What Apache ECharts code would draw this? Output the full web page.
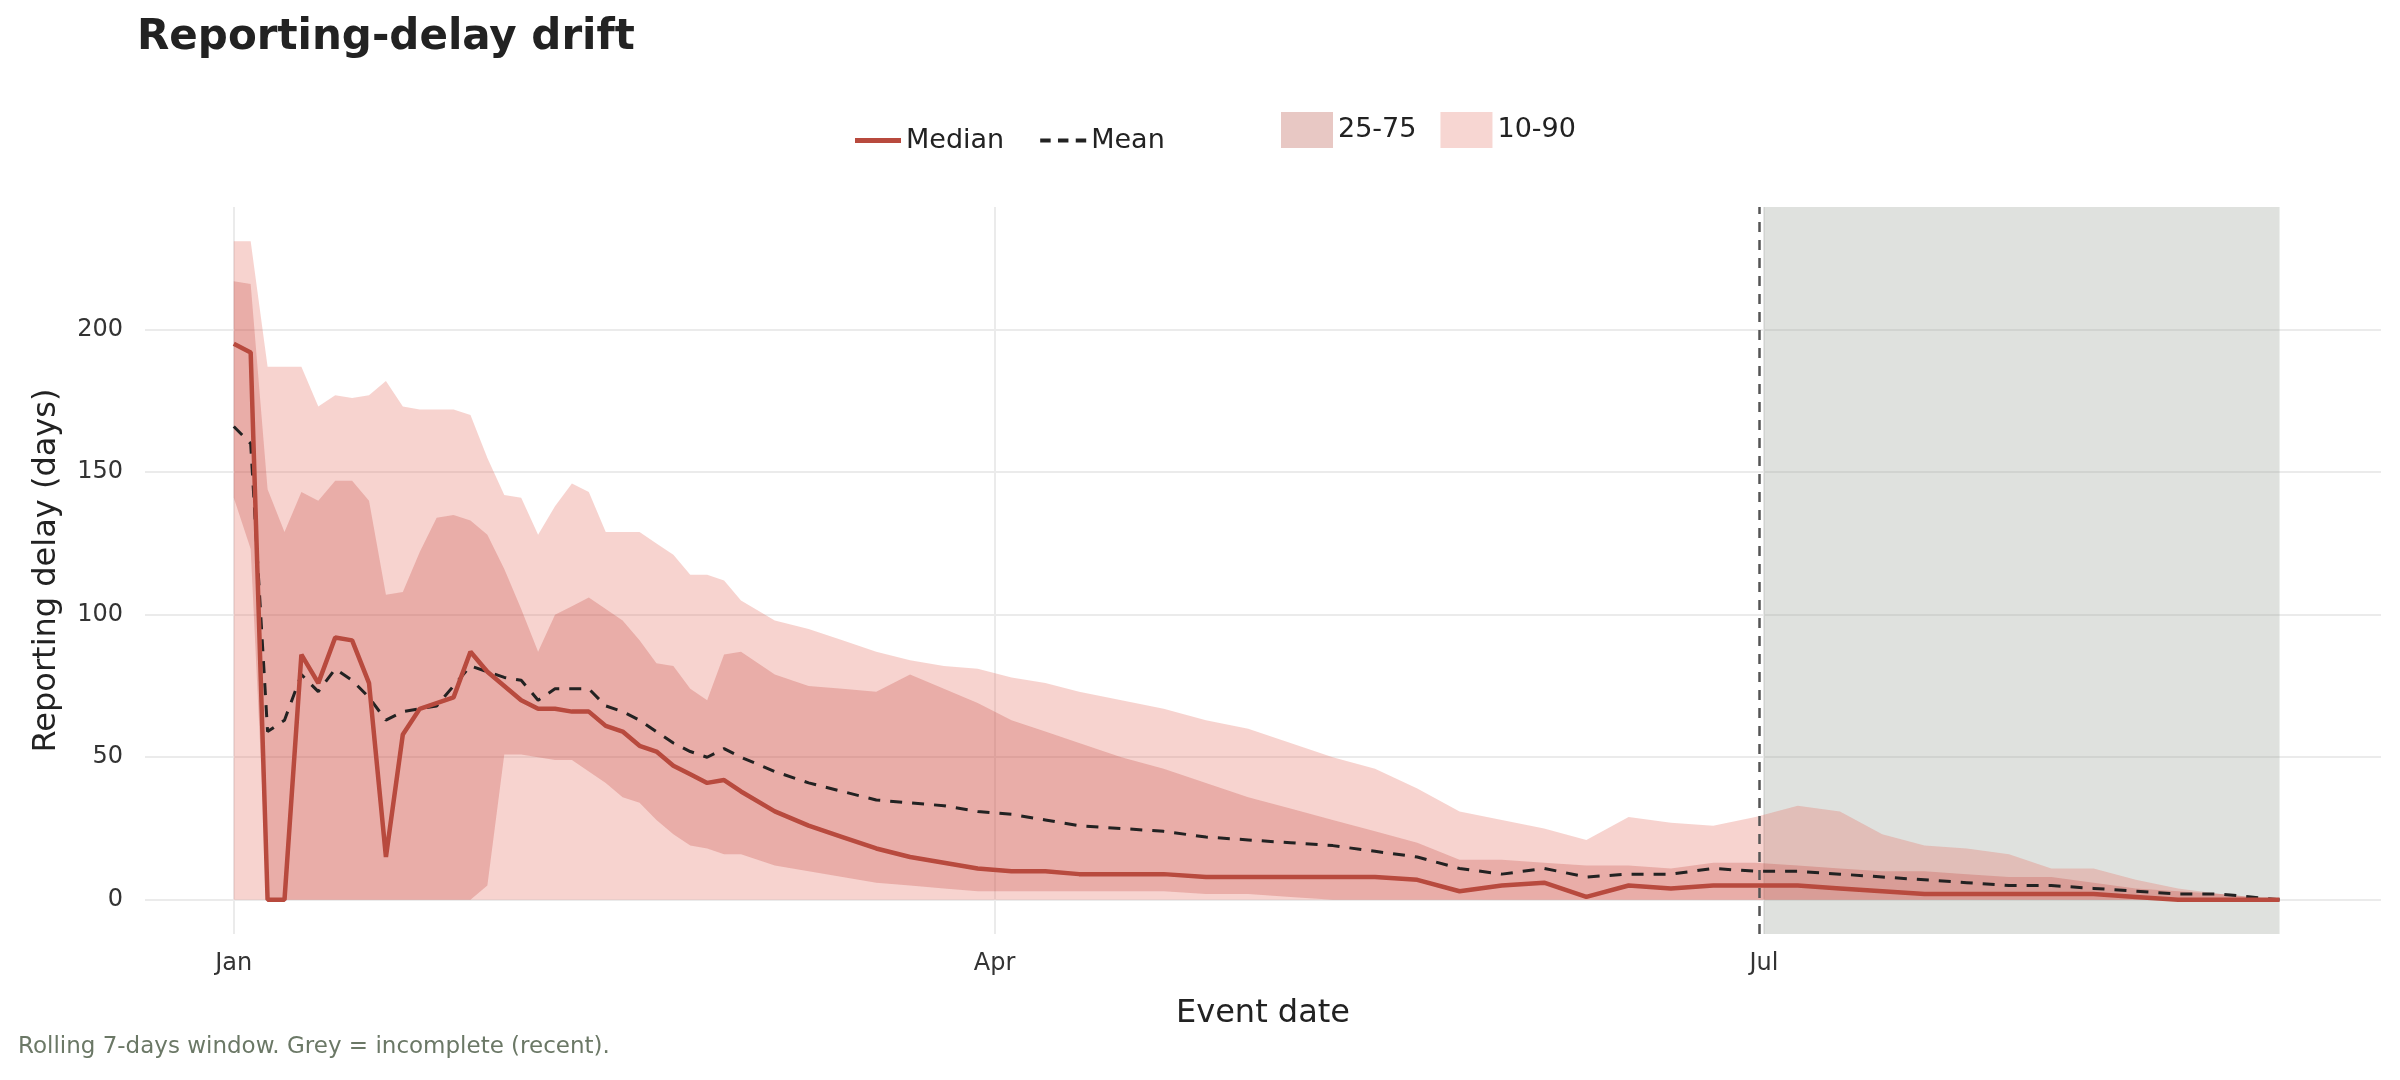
<!DOCTYPE html>
<html lang="en">
  <head>
    <meta charset="UTF-8" />
    <title>Reporting-delay drift</title>
    <script src="https://cdn.jsdelivr.net/npm/echarts@6.0.0/dist/echarts.min.js"></script>
  </head>
  <body style="margin: 0">
    <div id="main" style="width: 2400px; height: 1080px"></div>
    <script type="text/javascript">
      // Days since Jan 1 (event date)
      const days = [0, 2, 4, 6, 8, 10, 12, 14, 16, 18, 20, 22, 24, 26, 28, 30, 32, 34, 36, 38, 40, 42, 44, 46, 48, 50, 52, 54, 56, 58, 60, 64, 68, 72, 76, 80, 84, 88, 92, 96, 100, 105, 110, 115, 120, 125, 130, 135, 140, 145, 150, 155, 160, 165, 170, 175, 180, 185, 190, 195, 200, 205, 210, 215, 220, 225, 230, 235, 242];
      const median = [195, 192, 0, 0, 86, 76, 92, 91, 76, 15, 58, 67, 69, 71, 87, 80, 75, 70, 67, 67, 66, 66, 61, 59, 54, 52, 47, 44, 41, 42, 38, 31, 26, 22, 18, 15, 13, 11, 10, 10, 9, 9, 9, 8, 8, 8, 8, 8, 7, 3, 5, 6, 1, 5, 4, 5, 5, 5, 4, 3, 2, 2, 2, 2, 2, 1, 0, 0, 0];
      const mean = [166, 160, 59, 63, 79, 73, 81, 77, 71, 63, 66, 67, 68, 75, 82, 80, 78, 77, 70, 74, 74, 74, 68, 66, 63, 59, 55, 52, 50, 53, 50, 45, 41, 38, 35, 34, 33, 31, 30, 28, 26, 25, 24, 22, 21, 20, 19, 17, 15, 11, 9, 11, 8, 9, 9, 11, 10, 10, 9, 8, 7, 6, 5, 5, 4, 3, 2, 2, 0];
      const p25 = [141, 123, 0, 0, 0, 0, 0, 0, 0, 0, 0, 0, 0, 0, 0, 5, 51, 51, 50, 49, 49, 45, 41, 36, 34, 28, 23, 19, 18, 16, 16, 12, 10, 8, 6, 5, 4, 3, 3, 3, 3, 3, 3, 2, 2, 1, 0, 0, 0, 0, 0, 0, 0, 0, 0, 0, 0, 0, 0, 0, 0, 0, 0, 0, 0, 0, 0, 0, 0];
      const p75 = [217, 216, 144, 129, 143, 140, 147, 147, 140, 107, 108, 122, 134, 135, 133, 128, 116, 102, 87, 100, 103, 106, 102, 98, 91, 83, 82, 74, 70, 86, 87, 79, 75, 74, 73, 79, 74, 69, 63, 59, 55, 50, 46, 41, 36, 32, 28, 24, 20, 14, 14, 13, 12, 12, 11, 13, 13, 12, 11, 10, 10, 9, 8, 8, 6, 4, 3, 2, 0];
      const p10 = [0, 0, 0, 0, 0, 0, 0, 0, 0, 0, 0, 0, 0, 0, 0, 0, 0, 0, 0, 0, 0, 0, 0, 0, 0, 0, 0, 0, 0, 0, 0, 0, 0, 0, 0, 0, 0, 0, 0, 0, 0, 0, 0, 0, 0, 0, 0, 0, 0, 0, 0, 0, 0, 0, 0, 0, 0, 0, 0, 0, 0, 0, 0, 0, 0, 0, 0, 0, 0];
      const p90 = [231, 231, 187, 187, 187, 173, 177, 176, 177, 182, 173, 172, 172, 172, 170, 155, 142, 141, 128, 138, 146, 143, 129, 129, 129, 125, 121, 114, 114, 112, 105, 98, 95, 91, 87, 84, 82, 81, 78, 76, 73, 70, 67, 63, 60, 55, 50, 46, 39, 31, 28, 25, 21, 29, 27, 26, 29, 33, 31, 23, 19, 18, 16, 11, 11, 7, 4, 2, 0];
      const xTicks = [0, 90, 181];
      const xTickLabels = ["Jan", "Apr", "Jul"];
      const yTicks = [0, 50, 100, 150, 200];
      const incompleteFrom = 181;
      const incompleteTo = 242;

      const pairs = (arr) => days.map((d, i) => [d, arr[i]]);

      const outerColor = "rgba(230,110,95,0.3)";
      const innerColor = "rgba(190,60,50,0.25)";
      const font = "DejaVu Sans";

      // band polygon: upper edge left→right, lower edge right→left
      function bandSeries(name, lo, hi, color) {
        return {
          name: name,
          type: "custom",
          data: [0],
          itemStyle: { color: color },
          renderItem: (params, api) => {
            const pts = [];
            days.forEach((d, i) => pts.push(api.coord([d, hi[i]])));
            for (let i = days.length - 1; i >= 0; i--) pts.push(api.coord([days[i], lo[i]]));
            return { type: "polygon", shape: { points: pts }, style: { fill: color } };
          },
        };
      }

      let myChart = echarts.init(document.getElementById("main"));
      myChart.setOption({
        animation: false,
        textStyle: { fontFamily: font },
        title: {
          text: "Reporting-delay drift",
          left: 132,
          top: 12,
          textStyle: { fontSize: 42, fontWeight: "bold", color: "#222" },
        },
        graphic: [
          {
            type: "text",
            left: 18,
            top: 1036,
            style: {
              text: "Rolling 7-days window. Grey = incomplete (recent).",
              fontSize: 23,
              fontFamily: font,
              fill: "#6b7866",
            },
          },
        ],
        legend: [
          {
            top: 122,
            left: 850,
            itemWidth: 46,
            itemHeight: 5,
            itemGap: 36,
            textStyle: { fontSize: 27, color: "#222" },
            data: [
              { name: "Median", icon: "rect" },
              { name: "Mean", icon: "path://M0,0h10v4h-10zM17,0h10v4h-10zM34,0h10v4h-10z" },
            ],
          },
          {
            top: 107,
            left: 1276,
            itemWidth: 52,
            itemHeight: 36,
            itemGap: 24,
            textStyle: { fontSize: 27, color: "#222" },
            data: [
              { name: "25-75", icon: "rect", itemStyle: { color: "#e8c8c4" } },
              { name: "10-90", icon: "rect", itemStyle: { color: "#f7d6d2" } },
            ],
          },
        ],
        grid: { left: 145, right: 19, top: 207, bottom: 146 },
        xAxis: {
          type: "value",
          min: -10.5,
          max: 254,
          name: "Event date",
          nameLocation: "middle",
          nameGap: 64,
          nameTextStyle: { fontSize: 32, color: "#222" },
          axisLine: { show: false },
          axisTick: { show: false, customValues: xTicks },
          axisLabel: {
            customValues: xTicks,
            fontSize: 24,
            color: "#333",
            margin: 18,
            formatter: (v) => xTickLabels[xTicks.indexOf(v)] || "",
          },
          splitLine: { show: true, lineStyle: { color: "#ebebeb", width: 2 } },
        },
        yAxis: {
          type: "value",
          min: -12,
          max: 243,
          name: "Reporting delay (days)",
          nameLocation: "middle",
          nameGap: 82,
          nameTextStyle: { fontSize: 32, color: "#222" },
          axisLine: { show: false },
          axisTick: { show: false, customValues: yTicks },
          axisLabel: { customValues: yTicks, fontSize: 24, color: "#333", margin: 22 },
          splitLine: { show: true, lineStyle: { color: "#ebebeb", width: 2 } },
        },
        series: [
          bandSeries("10-90", p10, p90, outerColor),
          bandSeries("25-75", p25, p75, innerColor),
          {
            name: "Mean",
            type: "line",
            data: pairs(mean),
            symbol: "none",
            itemStyle: { color: "#222" },
            lineStyle: { color: "#222", width: 3, type: [12, 10] },
            markArea: {
              silent: true,
              itemStyle: { color: "rgba(150,155,145,0.3)" },
              data: [[{ xAxis: incompleteFrom }, { xAxis: incompleteTo }]],
            },
            markLine: {
              silent: true,
              symbol: "none",
              label: { show: false },
              lineStyle: { color: "#555", type: [10, 8], width: 2.5 },
              data: [{ xAxis: incompleteFrom - 0.5 }],
            },
          },
          {
            name: "Median",
            type: "line",
            data: pairs(median),
            symbol: "none",
            itemStyle: { color: "#b84a3e" },
            lineStyle: { color: "#b84a3e", width: 4.5 },
          },
        ],
      });
    </script>
  </body>
</html>
